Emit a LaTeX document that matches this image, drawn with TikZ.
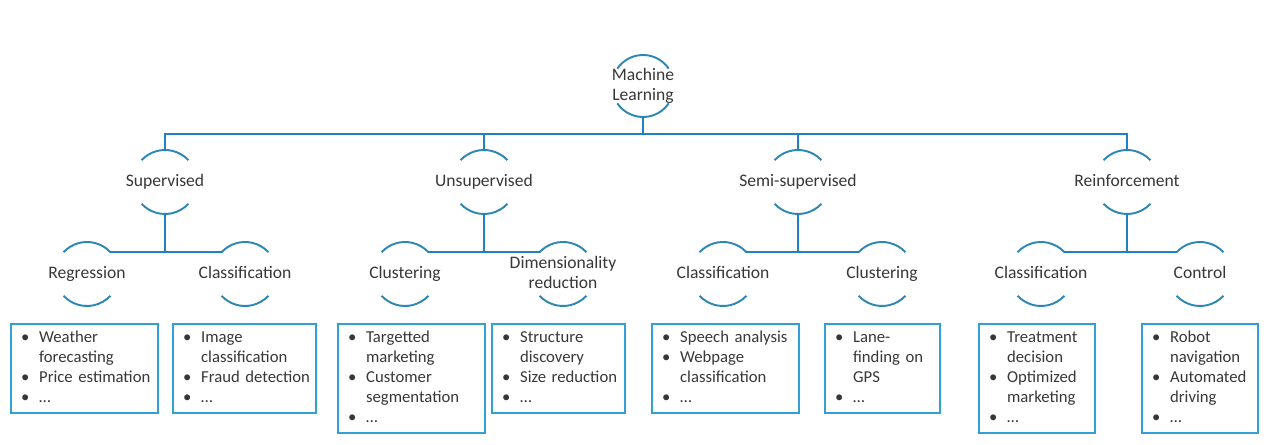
\documentclass[tikz,border=0pt]{standalone}
\usepackage{fontspec}
\setmainfont{Carlito}
\usepackage{xcolor}
\usepackage{tikz}
\usetikzlibrary{positioning}

\definecolor{linkblue}{RGB}{30,130,190}
\definecolor{arcblue}{RGB}{45,135,180}
\definecolor{boxblue}{RGB}{50,160,215}
\definecolor{inktext}{RGB}{55,55,55}

\newcommand{\ringarcs}[3]{%
  \draw[ringline] (#1.center) ++({90+#3}:#2) arc[start angle={90+#3},end angle={90-#3},radius=#2];
  \draw[ringline] (#1.center) ++({270-#3}:#2) arc[start angle={270-#3},end angle={270+#3},radius=#2];}
\newcommand{\blist}[1]{\begin{tabular}{@{}p{0.36cm}@{}l@{}}#1\end{tabular}}

\begin{document}
\begin{tikzpicture}[
    x=0.02cm, y=0.02cm,
    font=\fontsize{10}{11.4}\selectfont,
    text=inktext,
    ring/.style={circle,minimum size=1.28cm,inner sep=0pt,outer sep=0pt,
        label={[align=center,text=inktext,text depth=0.2em]center:#1}},
    ringline/.style={arcblue,line width=1.1pt},
    link/.style={linkblue,line width=1.1pt},
    box/.style={draw=boxblue,line width=1.3pt,anchor=north west,align=left,
        text width=#1,inner xsep=0.2cm,inner ysep=0pt,minimum height=1.78cm,
        font=\fontsize{9.5}{11.4}\selectfont},
    tall/.style={minimum height=2.18cm}
]
\useasboundingbox (0,0) rectangle (1280,445);

\node[ring={Machine\\Learning},minimum size=1.24cm] (ml) at (643,359) {};
\node[ring=Supervised] (sup) at (165,263) {};
\node[ring=Unsupervised] (uns) at (484,263) {};
\node[ring=Semi-supervised] (semi) at (798,263) {};
\node[ring=Reinforcement] (rein) at (1127,263) {};

\node[ring=Regression] (reg) at (87,171) {};
\node[ring=Classification] (supcls) at (245,171) {};
\node[ring=Clustering] (unsclu) at (405,171) {};
\node[ring={Dimensionality\\reduction}] (unsdim) at (563,171) {};
\node[ring=Classification] (semicls) at (723,171) {};
\node[ring=Clustering] (semiclu) at (882,171) {};
\node[ring=Classification] (reincls) at (1041,171) {};
\node[ring=Control] (reinctl) at (1200,171) {};

\ringarcs{ml}{0.62cm}{56}
\ringarcs{sup}{0.64cm}{47}
\ringarcs{uns}{0.64cm}{47}
\ringarcs{semi}{0.64cm}{47}
\ringarcs{rein}{0.64cm}{47}
\ringarcs{reg}{0.64cm}{47}
\ringarcs{supcls}{0.64cm}{47}
\ringarcs{unsclu}{0.64cm}{47}
\ringarcs{unsdim}{0.64cm}{47}
\ringarcs{semicls}{0.64cm}{47}
\ringarcs{semiclu}{0.64cm}{47}
\ringarcs{reincls}{0.64cm}{47}
\ringarcs{reinctl}{0.64cm}{47}

\coordinate (bus) at (643,311);
\draw[link] (ml.south) -- (bus);
\draw[link] (sup.north) |- (bus) -| (rein.north);
\draw[link] (uns.north) -- (uns.north |- bus);
\draw[link] (semi.north) -- (semi.north |- bus);

\draw[link] (sup.south) -- (sup.south |- reg.43);
\draw[link] (reg.43) -- (supcls.137);
\draw[link] (uns.south) -- (uns.south |- unsclu.43);
\draw[link] (unsclu.43) -- (unsdim.137);
\draw[link] (semi.south) -- (semi.south |- semicls.43);
\draw[link] (semicls.43) -- (semiclu.137);
\draw[link] (rein.south) -- (rein.south |- reincls.43);
\draw[link] (reincls.43) -- (reinctl.137);

\node[box=2.54cm] (regbox) at (10,122) {\blist{\textbullet & Weather\\ & forecasting\\ \textbullet & Price estimation\\ \textbullet & \dots}};
\node[box=2.46cm] (supclsbox) at (172,122) {\blist{\textbullet & Image\\ & classification\\ \textbullet & Fraud detection\\ \textbullet & \dots}};
\node[box=2.54cm,tall] (unsclubox) at (337,122) {\blist{\textbullet & Targetted\\ & marketing\\ \textbullet & Customer\\ & segmentation\\ \textbullet & \dots}};
\node[box=2.26cm] (unsdimbox) at (491,122) {\blist{\textbullet & Structure\\ & discovery\\ \textbullet & Size reduction\\ \textbullet & \dots}};
\node[box=2.54cm] (semiclsbox) at (651,122) {\blist{\textbullet & Speech analysis\\ \textbullet & Webpage\\ & classification\\ \textbullet & \dots}};
\node[box=1.90cm] (semiclubox) at (824,122) {\blist{\textbullet & Lane-\\ & finding on\\ & GPS\\ \textbullet & \dots}};
\node[box=1.92cm,tall] (reinclsbox) at (978,122) {\blist{\textbullet & Treatment\\ & decision\\ \textbullet & Optimized\\ & marketing\\ \textbullet & \dots}};
\node[box=1.92cm,tall] (reinctlbox) at (1141,122) {\blist{\textbullet & Robot\\ & navigation\\ \textbullet & Automated\\ & driving\\ \textbullet & \dots}};
\end{tikzpicture}
\end{document}
